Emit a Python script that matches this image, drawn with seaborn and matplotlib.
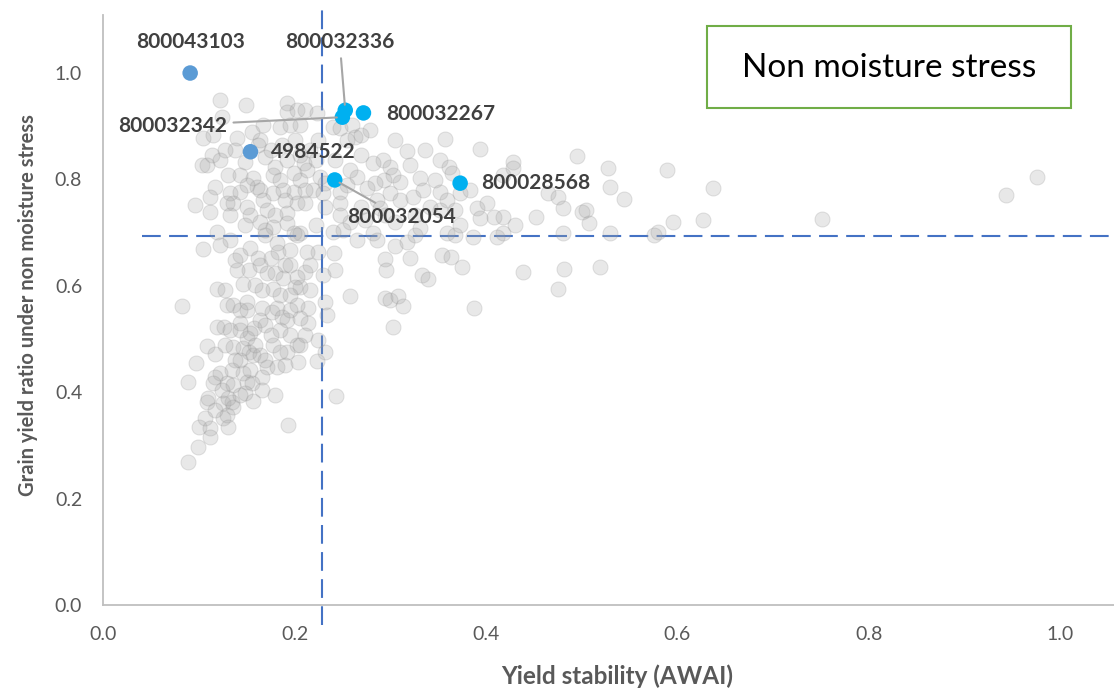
import matplotlib
matplotlib.use("Agg")
import matplotlib.pyplot as plt
import seaborn as sns
import pandas as pd
from matplotlib.patches import Rectangle
from matplotlib.ticker import FormatStrFormatter

# grey background genotypes: yield stability (AWAI) vs grain yield ratio
awai = [
    0.122, 0.149, 0.124, 0.192, 0.192, 0.203, 0.167, 0.185, 0.156, 0.140, 0.104, 0.115, 0.211, 0.224, 0.206, 0.201,
    0.114, 0.103, 0.109, 0.131, 0.148, 0.169, 0.180, 0.192, 0.199, 0.178, 0.157, 0.161, 0.150,
    0.117, 0.112, 0.133, 0.143, 0.136, 0.150, 0.164, 0.167, 0.178, 0.171, 0.199, 0.203, 0.112,
    0.130, 0.192, 0.206, 0.175, 0.187, 0.164, 0.213, 0.210, 0.227, 0.232, 0.219, 0.230, 0.211,
    0.232, 0.185, 0.190, 0.143, 0.122, 0.133, 0.154, 0.180, 0.216, 0.225, 0.195, 0.138, 0.096,
    0.240, 0.260, 0.279, 0.248, 0.263, 0.269, 0.255, 0.357, 0.318, 0.394,
    0.352, 0.292, 0.282, 0.300, 0.303, 0.361, 0.365, 0.331, 0.347, 0.310,
    0.293, 0.284, 0.265, 0.255, 0.248, 0.276, 0.300, 0.310, 0.324, 0.334,
    0.352, 0.359, 0.373, 0.391, 0.401, 0.408, 0.248, 0.269, 0.286, 0.289,
    0.342, 0.352, 0.394, 0.428, 0.428, 0.418, 0.465, 0.475, 0.480, 0.500,
    0.504, 0.452, 0.418, 0.495, 0.527, 0.589, 0.530, 0.544, 0.595, 0.637, 0.627, 0.751, 0.943, 0.976,
    0.430, 0.418, 0.480, 0.508, 0.530, 0.575, 0.580, 0.359, 0.368, 0.386, 0.412, 0.265, 0.282,
    0.286, 0.305, 0.318, 0.326, 0.251, 0.240, 0.222, 0.206, 0.258, 0.305, 0.331, 0.373,
    0.295, 0.296, 0.321, 0.333, 0.339, 0.354, 0.363, 0.375, 0.258, 0.295, 0.300, 0.308,
    0.313, 0.303, 0.387, 0.439, 0.482, 0.519, 0.475, 0.241, 0.225, 0.213, 0.211,
    0.230, 0.206, 0.214, 0.232, 0.234, 0.214, 0.211, 0.225, 0.232, 0.224, 0.243,
    0.119, 0.104, 0.119, 0.082, 0.097, 0.109, 0.117, 0.119, 0.126, 0.130,
    0.136, 0.150, 0.150, 0.143, 0.158, 0.146, 0.154, 0.162, 0.152, 0.171,
    0.180, 0.188, 0.178, 0.190, 0.183, 0.182, 0.166, 0.177, 0.182, 0.187,
    0.192, 0.201, 0.203, 0.136, 0.146, 0.152, 0.157, 0.150, 0.154, 0.171,
    0.182, 0.190, 0.192, 0.185, 0.178, 0.195, 0.203, 0.166, 0.146, 0.135,
    0.122, 0.117, 0.089, 0.115, 0.130, 0.136, 0.150, 0.156, 0.109, 0.110,
    0.125, 0.135, 0.136, 0.157, 0.166, 0.100, 0.107, 0.112, 0.125, 0.129,
    0.131, 0.112, 0.099, 0.089, 0.193, 0.131, 0.164, 0.178, 0.192, 0.199,
    0.203, 0.203, 0.133, 0.143, 0.169, 0.195, 0.140, 0.166,
    0.195, 0.206, 0.169, 0.185, 0.133, 0.143, 0.164, 0.204, 0.180, 0.148,
    0.127, 0.162, 0.206, 0.222, 0.188, 0.211, 0.169, 0.148, 0.122, 0.138, 0.164,
    0.195, 0.175, 0.159, 0.185, 0.127, 0.143, 0.164, 0.195, 0.175, 0.159, 0.143,
    0.127, 0.169, 0.154, 0.138, 0.124, 0.143, 0.117, 0.206, 0.216, 0.216, 0.242,
    0.248, 0.274, 0.295, 0.326, 0.368, 0.383, 0.321, 0.336, 0.269, 0.242, 0.258, 0.305,
]
ratio = [
    0.949, 0.940, 0.917, 0.944, 0.927, 0.930, 0.902, 0.898, 0.889, 0.878, 0.878, 0.883, 0.930, 0.925, 0.902, 0.874,
    0.846, 0.827, 0.827, 0.808, 0.833, 0.842, 0.823, 0.836, 0.812, 0.808, 0.803, 0.786, 0.789,
    0.786, 0.767, 0.774, 0.776, 0.756, 0.748, 0.780, 0.761, 0.774, 0.742, 0.776, 0.756, 0.739,
    0.756, 0.737, 0.799, 0.855, 0.865, 0.874, 0.818, 0.831, 0.805, 0.793, 0.780, 0.774, 0.756,
    0.748, 0.799, 0.761, 0.808, 0.836, 0.733, 0.733, 0.733, 0.855, 0.874, 0.902, 0.855, 0.752,
    0.898, 0.902, 0.893, 0.897, 0.880, 0.883, 0.874, 0.876, 0.853, 0.857,
    0.836, 0.836, 0.831, 0.823, 0.808, 0.823, 0.812, 0.803, 0.799, 0.795,
    0.799, 0.793, 0.805, 0.789, 0.776, 0.784, 0.774, 0.761, 0.767, 0.780,
    0.776, 0.761, 0.774, 0.746, 0.756, 0.729, 0.756, 0.748, 0.761, 0.746,
    0.748, 0.742, 0.727, 0.833, 0.821, 0.808, 0.774, 0.767, 0.746, 0.739,
    0.742, 0.729, 0.729, 0.844, 0.821, 0.818, 0.786, 0.763, 0.720, 0.784, 0.724, 0.726, 0.771, 0.805,
    0.714, 0.699, 0.699, 0.718, 0.699, 0.695, 0.701, 0.699, 0.695, 0.692, 0.692, 0.686, 0.699,
    0.686, 0.675, 0.682, 0.695, 0.705, 0.701, 0.714, 0.699, 0.720, 0.720, 0.709, 0.714,
    0.650, 0.630, 0.652, 0.620, 0.613, 0.658, 0.654, 0.635, 0.581, 0.577, 0.573, 0.581,
    0.562, 0.523, 0.558, 0.626, 0.632, 0.635, 0.594, 0.662, 0.663, 0.663, 0.626,
    0.620, 0.598, 0.558, 0.570, 0.545, 0.530, 0.508, 0.498, 0.476, 0.459, 0.393,
    0.701, 0.669, 0.594, 0.562, 0.455, 0.487, 0.472, 0.523, 0.523, 0.564,
    0.564, 0.570, 0.555, 0.530, 0.521, 0.603, 0.671, 0.652, 0.630, 0.624,
    0.624, 0.615, 0.594, 0.639, 0.663, 0.680, 0.558, 0.551, 0.558, 0.541,
    0.536, 0.598, 0.564, 0.485, 0.483, 0.476, 0.470, 0.502, 0.511, 0.447,
    0.447, 0.451, 0.476, 0.476, 0.489, 0.508, 0.489, 0.429, 0.436, 0.442,
    0.436, 0.429, 0.419, 0.417, 0.417, 0.414, 0.419, 0.417, 0.382, 0.389,
    0.380, 0.382, 0.372, 0.383, 0.404, 0.335, 0.352, 0.333, 0.352, 0.357,
    0.335, 0.316, 0.297, 0.269, 0.338, 0.389, 0.720, 0.711, 0.718, 0.699,
    0.695, 0.617, 0.686, 0.658, 0.695, 0.667, 0.630, 0.592,
    0.583, 0.539, 0.526, 0.517, 0.517, 0.461, 0.470, 0.457, 0.395, 0.398,
    0.855, 0.865, 0.846, 0.836, 0.780, 0.780, 0.705, 0.714, 0.677, 0.648, 0.639,
    0.639, 0.652, 0.601, 0.583, 0.592, 0.555, 0.536, 0.555, 0.508, 0.489, 0.517,
    0.489, 0.461, 0.442, 0.461, 0.404, 0.395, 0.367, 0.489, 0.592, 0.639, 0.630,
    0.733, 0.724, 0.733, 0.733, 0.742, 0.780, 0.827, 0.855, 0.846, 0.836, 0.818, 0.874,
]

# highlighted genotypes
hl_ids = ["800043103", "4984522", "800032336", "800032342", "800032267", "800032054", "800028568"]
hl_awai = [0.091, 0.154, 0.253, 0.250, 0.272, 0.242, 0.373]
hl_ratio = [1.000, 0.852, 0.930, 0.917, 0.925, 0.799, 0.793]
hl_group = ["a", "a", "b", "b", "b", "b", "b"]

awai_cut = 0.229
ratio_cut = 0.694

sns.set_style("white")
plt.rcParams['font.family'] = ['Lato', 'DejaVu Sans']

df = pd.DataFrame({"awai": awai, "ratio": ratio})
hl = pd.DataFrame({"id": hl_ids, "awai": hl_awai, "ratio": hl_ratio, "group": hl_group})

fig = plt.figure(figsize=(11.14, 6.9), dpi=100)
ax = fig.add_axes([0.0925, 0.1232, 0.9075, 0.855])

blue = "#4472C4"
ax.plot([awai_cut, awai_cut], [-0.038, 1.12], color=blue, lw=1.5, ls=(0, (9, 4)), clip_on=False, zorder=1)
ax.plot([0.041, 1.1], [ratio_cut, ratio_cut], color=blue, lw=1.5, ls=(0, (9, 4)), clip_on=False, zorder=1)

sns.scatterplot(data=df, x="awai", y="ratio", ax=ax, color="#A6A6A6", alpha=0.25, s=117,
                edgecolor="#8C8C8C", linewidth=0.7, legend=False, zorder=2)
sns.scatterplot(data=hl, x="awai", y="ratio", hue="group", ax=ax,
                palette={"a": "#5B9BD5", "b": "#00B0F0"}, s=125, edgecolor="none",
                legend=False, zorder=4)

# label offsets in points: (dx, dy, ha, leader)
offsets = {
    "800043103": (0, 22, "center", False),
    "4984522": (15, 0, "left", False),
    "800032336": (-4, 49, "center", True),
    "800032342": (-122, -6, "center", True),
    "800032267": (16, -1, "left", False),
    "800032054": (48, -27, "center", True),
    "800028568": (15, 0, "left", False),
}
for _, r in hl.iterrows():
    dx, dy, ha, leader = offsets[r["id"]]
    arrow = dict(arrowstyle="-", color="#A6A6A6", lw=1.5, shrinkA=2, shrinkB=4) if leader else None
    ax.annotate(r["id"], xy=(r["awai"], r["ratio"]), xytext=(dx, dy), textcoords="offset points",
                ha=ha, va="center", fontsize=15, fontweight="bold", color="#404040",
                arrowprops=arrow, zorder=5)

ax.set_xlim(0, 1.056)
ax.set_ylim(0, 1.109)
ax.set_xticks([0, 0.2, 0.4, 0.6, 0.8, 1.0])
ax.set_yticks([0, 0.2, 0.4, 0.6, 0.8, 1.0])
ax.xaxis.set_major_formatter(FormatStrFormatter("%.1f"))
ax.yaxis.set_major_formatter(FormatStrFormatter("%.1f"))
ax.tick_params(length=0, labelsize=14, labelcolor="#595959", pad=15)

for side in ["top", "right"]:
    ax.spines[side].set_visible(False)
for side in ["left", "bottom"]:
    ax.spines[side].set_color("#BFBFBF")
    ax.spines[side].set_linewidth(1.3)

ax.set_xlabel("Yield stability (AWAI)", fontsize=17.5, fontweight="bold", color="#595959")
ax.set_ylabel("Grain yield ratio under non moisture stress", fontsize=14.5, fontweight="bold", color="#595959")
ax.xaxis.set_label_coords(0.509, -0.1)
ax.yaxis.set_label_coords(-0.064, 0.508)

fig.add_artist(Rectangle((0.6346, 0.8435), 0.3268, 0.1188, transform=fig.transFigure,
                         fill=False, edgecolor="#70AD47", lw=1.5))
fig.text(0.798, 0.901, "Non moisture stress", ha="center", va="center", fontsize=24, color="black")

fig.savefig("out.png", dpi=100)
